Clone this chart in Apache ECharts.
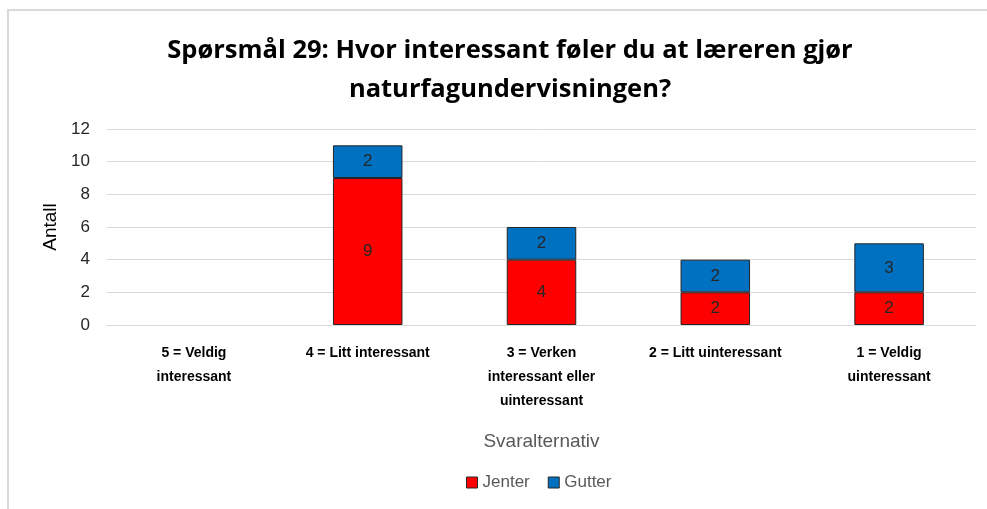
<!DOCTYPE html>
<html>
<head>
<meta charset="utf-8">
<script src="https://cdn.jsdelivr.net/npm/echarts@6/dist/echarts.min.js"></script>
<style>
  html, body { margin: 0; padding: 0; background: #fff; }
  #chart { width: 987px; height: 509px; }
</style>
</head>
<body>
<div id="chart"></div>
<script>
// Answer categories (x axis)
const categories = [
  '5 = Veldig\ninteressant',
  '4 = Litt interessant',
  '3 = Verken\ninteressant eller\nuinteressant',
  '2 = Litt uinteressant',
  '1 = Veldig\nuinteressant'
];
// Counts per group
const jenter = [0, 9, 4, 2, 2];
const gutter = [0, 2, 2, 2, 3];
// Y axis ticks
const yTicks = [0, 2, 4, 6, 8, 10, 12];

const font = 'Liberation Sans, Arial, sans-serif';
const chart = echarts.init(document.getElementById('chart'));

const labelCfg = {
  show: true,
  position: 'inside',
  color: '#262626',
  fontFamily: font,
  fontSize: 17,
  formatter: p => (p.value ? String(p.value) : '')
};

// empty counts are left out so no flat bar is drawn
const toBars = arr => arr.map(v => (v ? v : null));

chart.setOption({
  animation: false,
  graphic: [{
    type: 'rect',
    shape: { x: 8, y: 10, width: 1000, height: 520 },
    style: { fill: 'none', stroke: '#d9d9d9', lineWidth: 2 },
    z: -10
  }],
  title: {
    text: 'Spørsmål 29: Hvor interessant føler du at læreren gjør\nnaturfagundervisningen?',
    left: 505,
    textAlign: 'center',
    top: 26,
    textStyle: {
      fontFamily: '"Open Sans", Liberation Sans, sans-serif',
      fontWeight: 'bold',
      fontSize: 25.5,
      lineHeight: 39,
      color: '#000'
    }
  },
  legend: {
    data: ['Jenter', 'Gutter'],
    bottom: 18,
    left: 466,
    padding: 0,
    itemWidth: 11,
    itemHeight: 11,
    itemGap: 18,
    icon: 'rect',
    itemStyle: { borderColor: '#262626', borderWidth: 1 },
    textStyle: { fontFamily: font, fontSize: 17, color: '#595959' }
  },
  grid: { left: 107, right: 11, top: 129, bottom: 184 },
  xAxis: {
    type: 'category',
    data: categories,
    name: 'Svaralternativ',
    nameLocation: 'middle',
    nameGap: 107,
    nameTextStyle: { fontFamily: font, fontSize: 19, color: '#595959' },
    axisLine: { show: true, lineStyle: { color: '#d9d9d9' } },
    axisTick: { show: false },
    axisLabel: {
      interval: 0,
      margin: 16,
      fontFamily: font,
      fontWeight: 'bold',
      fontSize: 14,
      lineHeight: 24,
      color: '#000'
    }
  },
  yAxis: {
    type: 'value',
    min: yTicks[0],
    max: yTicks[yTicks.length - 1],
    interval: 2,
    name: 'Antall',
    nameLocation: 'middle',
    nameGap: 44,
    nameRotate: 90,
    nameTextStyle: { fontFamily: font, fontSize: 19, color: '#000' },
    axisLine: { show: false },
    axisTick: { show: false },
    axisLabel: { fontFamily: font, fontSize: 17, color: '#262626', margin: 17 },
    splitLine: { lineStyle: { color: '#d9d9d9', width: 1 } }
  },
  series: [
    {
      name: 'Jenter',
      type: 'bar',
      stack: 'total',
      data: toBars(jenter),
      barWidth: '40%',
      itemStyle: { color: '#ff0000', borderColor: '#262626', borderWidth: 1 },
      label: labelCfg
    },
    {
      name: 'Gutter',
      type: 'bar',
      stack: 'total',
      data: toBars(gutter),
      barWidth: '40%',
      itemStyle: { color: '#0070c0', borderColor: '#262626', borderWidth: 1 },
      label: labelCfg
    }
  ]
});
</script>
</body>
</html>
